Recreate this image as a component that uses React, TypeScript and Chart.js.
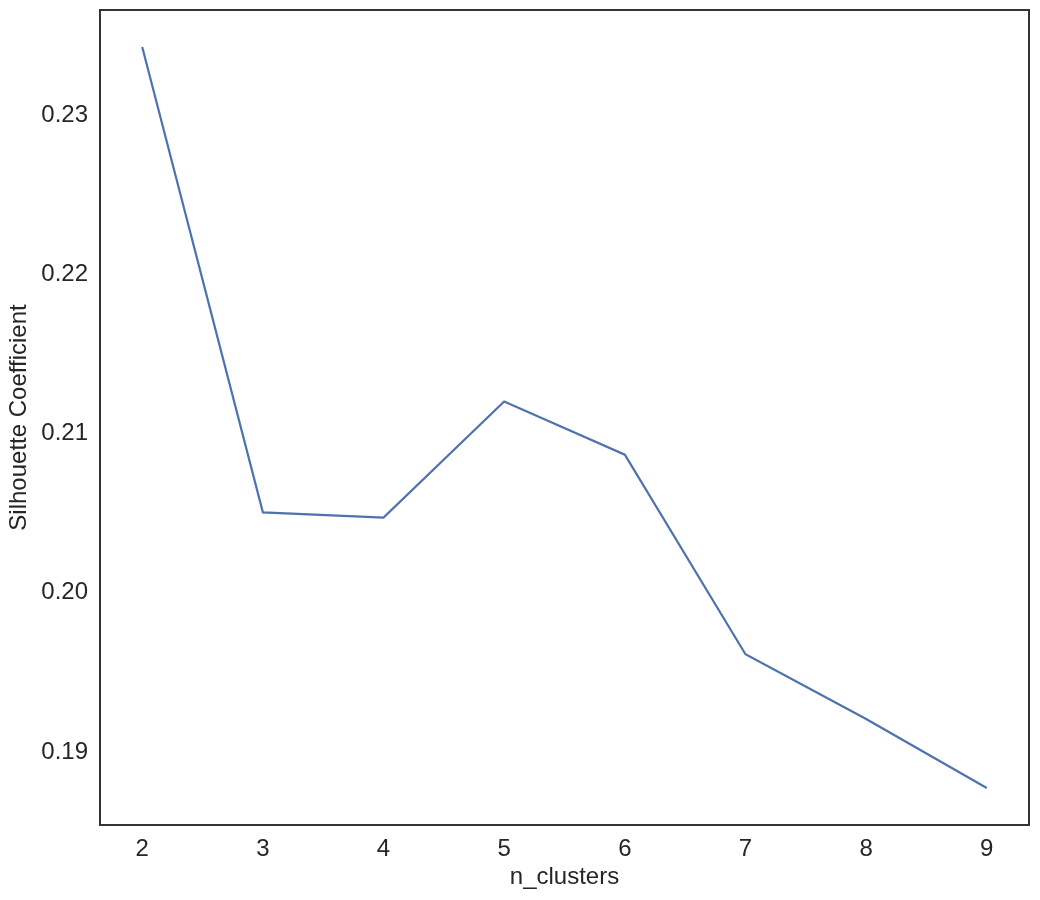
import { useEffect, useRef } from "react";
import { Chart, registerables } from "chart.js";

Chart.register(...registerables);

const nClusters = [2, 3, 4, 5, 6, 7, 8, 9];
const silhouette = [0.23426, 0.20505, 0.20472, 0.21201, 0.20867, 0.19614, 0.19207, 0.18774];
const xTickValues = [2, 3, 4, 5, 6, 7, 8, 9];
const yTickValues = [0.19, 0.2, 0.21, 0.22, 0.23];
const xTitle = "n_clusters";
const yTitle = "Silhouette Coefficient";

const FONT = "'Liberation Sans', Arial, sans-serif";
const TEXT = "#262626";
const FS = 24;

const framePlugin = {
  id: "frame",
  afterDraw(chart: any) {
    const { ctx, chartArea } = chart;
    ctx.save();
    ctx.strokeStyle = "#333333";
    ctx.lineWidth = 2;
    ctx.strokeRect(chartArea.left, chartArea.top, chartArea.right - chartArea.left, chartArea.bottom - chartArea.top);
    ctx.restore();
  },
};

export default function App() {
  const ref = useRef<HTMLCanvasElement | null>(null);

  useEffect(() => {
    if (!ref.current) return;
    const data = nClusters.map((x, i) => ({ x, y: silhouette[i] }));
    const chart = new Chart(ref.current, {
      type: "line",
      data: {
        datasets: [
          {
            data,
            borderColor: "#4C72B0",
            borderWidth: 2.2,
            pointRadius: 0,
            tension: 0,
            fill: false,
          },
        ],
      },
      options: {
        animation: false,
        responsive: false,
        maintainAspectRatio: false,
        layout: { padding: { top: 10, right: 11, left: 0, bottom: 0 } },
        plugins: { legend: { display: false }, tooltip: { enabled: false } },
        scales: {
          x: {
            type: "linear",
            min: 1.65,
            max: 9.35,
            grid: { display: false, drawTicks: false },
            border: { display: false },
            afterBuildTicks: (scale: any) => {
              scale.ticks = xTickValues.map((v) => ({ value: v }));
            },
            afterFit: (scale: any) => {
              scale.height = 75;
              scale.paddingLeft = 0;
              scale.paddingRight = 0;
            },
            ticks: {
              color: TEXT,
              font: { family: FONT, size: FS },
              padding: 10,
              maxRotation: 0,
              callback: (v: any) => String(v),
            },
            title: {
              display: true,
              text: xTitle,
              color: TEXT,
              font: { family: FONT, size: FS },
              padding: { top: 0, bottom: 8 },
            },
          },
          y: {
            type: "linear",
            min: 0.185417,
            max: 0.236589,
            grid: { display: false, drawTicks: false },
            border: { display: false },
            afterBuildTicks: (scale: any) => {
              scale.ticks = yTickValues.map((v) => ({ value: v }));
            },
            afterFit: (scale: any) => {
              scale.width = 100;
              scale.paddingTop = 0;
              scale.paddingBottom = 0;
            },
            ticks: {
              color: TEXT,
              font: { family: FONT, size: FS },
              padding: 12,
              callback: (v: any) => Number(v).toFixed(2),
            },
            title: {
              display: true,
              text: yTitle,
              color: TEXT,
              font: { family: FONT, size: FS },
              padding: { top: 5, bottom: 0 },
            },
          },
        },
      },
      plugins: [framePlugin],
    });
    return () => chart.destroy();
  }, []);

  return (
    <div style={{ position: "absolute", left: 0, top: 0, width: 1040, height: 900, background: "#ffffff" }}>
      <canvas ref={ref} width={1040} height={900} style={{ width: 1040, height: 900 }} />
    </div>
  );
}
